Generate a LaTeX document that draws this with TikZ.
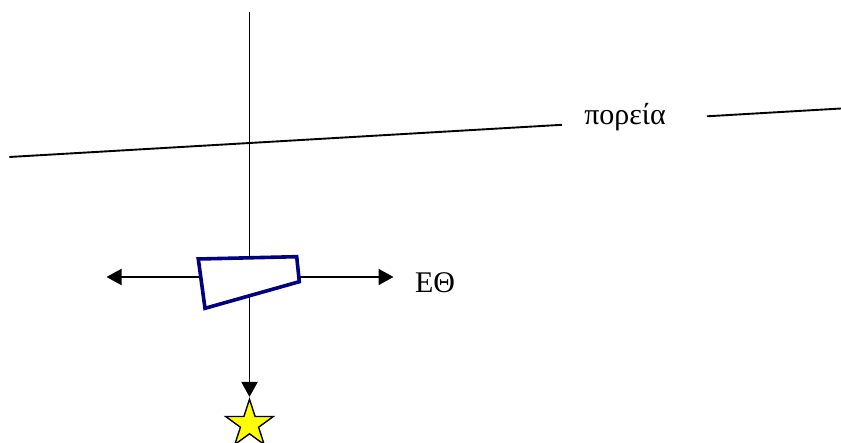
\documentclass[tikz,border=0pt]{standalone}
\usepackage{fontspec}
\setmainfont{Liberation Serif}
\usetikzlibrary{arrows.meta,shapes.geometric}
\definecolor{navyq}{RGB}{0,0,128}
\definecolor{staryellow}{RGB}{255,255,0}
\tikzset{
  thinline/.style={line width=1.9pt,black},
  arrowline/.style={thinline,-{Triangle[length=15pt,width=16pt]}},
  lbl/.style={font=\fontsize{30}{36}\selectfont,inner sep=0pt,anchor=base},
}
\begin{document}
\begin{tikzpicture}[x=1pt,y=-1pt]
\useasboundingbox (0,0) rectangle (841,443);
% course line
\coordinate (A) at (9.3,157);
\coordinate (B) at (562,124.8);
\coordinate (C) at (707,116.3);
\coordinate (D) at (841,108.5);
\node[lbl] (course) at (625,125) {πορεία};
\draw[thinline] (A) -- (B);
\draw[thinline] (C) -- (D);
% vertical line and arrows
\coordinate (top) at (249.5,12);
\coordinate (ctr) at (249.5,277);
\coordinate (ltip) at (106.5,277);
\coordinate (rtip) at (393.5,277);
\node[star,star points=5,star point ratio=2.618,minimum size=50pt,inner sep=0pt,
      draw=black,line width=1.4pt,fill=staryellow,anchor=north] (st) at (249.5,397) {};
\node[lbl] (eth) at (435,293) {ΕΘ};
\draw[thinline] (top) -- (ctr);
\draw[arrowline] (ctr) -- (st.north);
\draw[arrowline] (ctr) -- (ltip);
\draw[arrowline] (ctr) -- (rtip);
% vessel
\coordinate (q1) at (198.3,259);
\coordinate (q2) at (296.7,256.7);
\coordinate (q3) at (299.3,281.7);
\coordinate (q4) at (205,308.3);
\draw[navyq,line width=3.6pt,fill=white,line join=miter] (q1) -- (q2) -- (q3) -- (q4) -- cycle;
\end{tikzpicture}
\end{document}
